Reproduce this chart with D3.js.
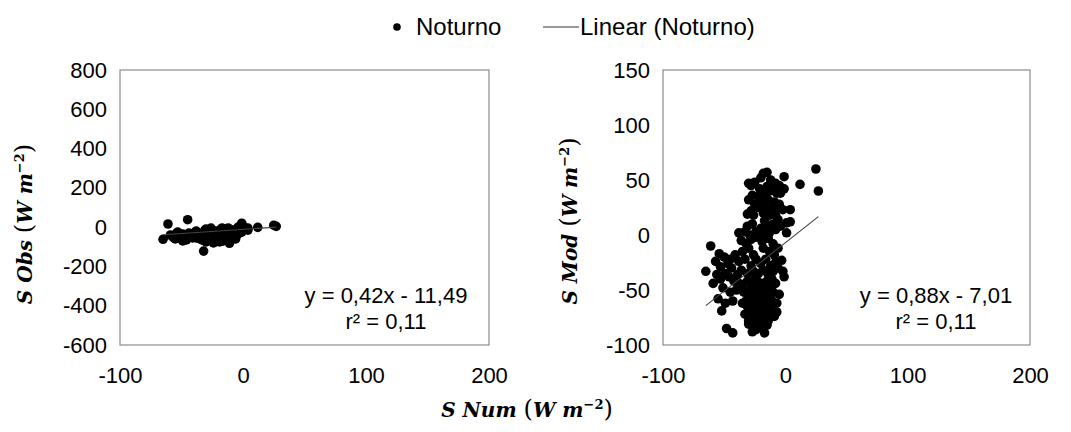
<!DOCTYPE html>
<html>
<head>
<meta charset="utf-8">
<script src="https://cdn.jsdelivr.net/npm/d3@7"></script>
<style>
  body { margin: 0; background: #fff; }
  text { font-family: "Liberation Sans", Arial, sans-serif; fill: #000; }
  .ttl { font-family: "DejaVu Serif", "Liberation Serif", serif; font-weight: bold; font-style: italic; }
</style>
</head>
<body>
<svg id="canvas" width="1071" height="432"></svg>
<script>
// S Num (x) for every night-time point, shared by both panels
const sNum = [
  // scattered points
  25, 27, 12, -61, -65, -59, -54, -53, -52, -48, -43, -38, -45, -30, -15, -1, 1, -2, 4, 4, 1, -3, -2, -1, -5, -7, -17, -24, -30, -32, -1, -10, -11,
  // upper column
  -28, -25, -20, -18, -12, -8, -5, -4, -7, -13, -16, -22, -27, -30, -25, -20,
  -14, -9, -5, -11, -16, -28, -31, -26, -18, -13, -8, -6, -10, -15, -20, -27,
  -31, -33, -29, -24, -18, -13, -8, -4, -23, -17, -9, -21, -15,
  // middle
  -36, -32, -28, -24, -19, -14, -10, -6, -35, -30, -26, -18, -13, -9, -38, -33,
  -28, -24, -20, -16, -12, -8, -36, -31, -26, -22, -18, -14, -10, -6,
  // left wing
  -57, -50, -47, -44, -41, -49, -46, -42, -39, -56, -51, -45, -40, -55, -49, -43, -38, -53,
  // lower core
  -35, -31, -27, -23, -19, -15, -11, -8, -34, -30, -26, -22, -18, -14, -10,
  -35, -31, -27, -23, -19, -15, -11, -7, -33, -29, -25, -21, -17, -13, -9,
  -30, -26, -22, -18, -14, -21, -27, -24, -20, -16, -12, -28,
  -25, -21, -17, -13, -29, -24, -20, -16, -28, -12, -22, -19, -25, -15, -23
]
// S Obs (left panel)
const sObs = [
  10, 4, -1, 16, -62, -40, -30, -48, -55, -45, -35, -20, 38, -20, -10, 20, -10, 5, -5, -15, 0, -30, -20, -25, -40, -50, -60, -80, -70, -122, -15, -30, -82,
  -35, -15, -45, -25, -5, -20, -10, 0, -30, -40, -20, -50, -30, -10, -55, -35,
  -15, -45, -25, -10, -60, -40, -25, -5, -30, -35, -15, -40, -50, -20, -45, -60,
  -15, -35, -50, -25, -10, -55, -30, -20, -40, -5, -60, -20, -45,
  -45, -30, -55, -20, -40, -25, -50, -35, -60, -40, -25, -55, -35, -20, -30, -65,
  -45, -30, -60, -40, -25, -55, -50, -35, -65, -45, -30, -50, -40, -60,
  -50, -40, -60, -30, -55, -35, -65, -45, -25, -55, -45, -50, -35, -60, -70, -40, -55, -25,
  -40, -55, -30, -65, -45, -60, -35, -50, -60, -45, -70, -35, -55, -40, -65,
  -50, -30, -60, -45, -75, -35, -55, -45, -65, -40, -55, -35, -70, -50, -60,
  -75, -45, -60, -40, -65, -50, -65, -50, -65, -30, -45, -35,
  -45, -60, -40, -65, -50, -35, -55, -70, -45, -50, -40, -60, -30, -50, -55
]
// S Mod (right panel)
const sMod = [
  60, 40, 46, -10, -33, -44, -17, -29, -69, -85, -89, 2, -22, 47, 57, 53, 11, 23, 23, 12, 2, -23, -33, -38, -54, -70, -89, -86, -81, -60, 42, 44, -40,
  45, 48, 52, 56, 50, 47, 45, 38, 38, 40, 37, 35, 36, 32, 28, 30,
  32, 30, 28, 25, 24, 22, 19, 18, 20, 18, 18, 14, 10, 8, 6, 10,
  8, 3, 0, 3, 1, 2, 5, 8, 25, 13, 22, 42, 44,
  -5, -8, -4, -2, -6, -3, -8, -12, -15, -12, -18, -12, -15, -18, -24, -22,
  -28, -22, -26, -22, -28, -25, -32, -35, -33, -35, -32, -36, -33, -30,
  -24, -20, -26, -30, -18, -35, -38, -42, -36, -36, -48, -52, -50, -58, -62, -60, -44, -40,
  -45, -42, -46, -42, -44, -42, -46, -44, -52, -55, -52, -56, -50, -54, -52,
  -62, -65, -60, -62, -58, -64, -60, -62, -72, -70, -74, -68, -72, -70, -74,
  -78, -80, -78, -80, -78, -84, -88, -66, -48, -62, -66, -58,
  -45, -52, -56, -46, -50, -58, -64, -68, -66, -58, -72, -76, -40, -82, -50
]

const xTicks = [-100, 0, 100, 200]
const obsTicks = [-600, -400, -200, 0, 200, 400, 600, 800]
const modTicks = [-100, -50, 0, 50, 100, 150]

// trendline coefficients [slope, intercept] and labels
const fitObs = [0.42, -11.49]
const fitMod = [0.88, -7.01]
const eqLabels = ['y = 0,42x - 11,49', 'y = 0,88x - 7,01']
const r2Labels = ['r² = 0,11', 'r² = 0,11']

const svg = d3.select('#canvas')
svg.append('rect').attr('width', 1071).attr('height', 432).attr('fill', '#fff')

const plotTop = 70, plotBottom = 345
const panels = [
  {left: 120, right: 489, ticks: obsTicks, vals: sObs, fit: fitObs, name: 'Obs', tx: 32, ty: 224, ex: 386, i: 0},
  {left: 663, right: 1030, ticks: modTicks, vals: sMod, fit: fitMod, name: 'Mod', tx: 577, ty: 221, ex: 936, i: 1}
]

const xMin = d3.min(sNum), xMax = d3.max(sNum)
const fmt = d => String(d)   // plain hyphen for negatives, as in the original

function addTitle(sel, name) {
  sel.append('tspan').text(`S ${name} `)
  sel.append('tspan').attr('font-style', 'normal').attr('font-weight', 'normal').attr('font-size', 24).text('(')
  sel.append('tspan').text('W m')
  sel.append('tspan').attr('dy', -8).attr('font-size', 13).attr('font-style', 'normal').text('−2')
  sel.append('tspan').attr('dy', 8).attr('font-style', 'normal').attr('font-weight', 'normal').attr('font-size', 24).text(')')
}

panels.forEach(p => {
  const x = d3.scaleLinear().domain([-100, 200]).range([p.left, p.right])
  const y = d3.scaleLinear().domain(d3.extent(p.ticks)).range([plotBottom, plotTop])
  const g = svg.append('g')

  // x axis labels
  const xa = g.append('g').attr('transform', `translate(0,${plotBottom})`)
    .call(d3.axisBottom(x).tickValues(xTicks).tickSize(0).tickPadding(22).tickFormat(fmt))
  xa.select('.domain').remove()
  xa.selectAll('text').attr('font-size', 22).attr('font-family', null)

  // y axis labels
  const ya = g.append('g').attr('transform', `translate(${p.left},0)`)
    .call(d3.axisLeft(y).tickValues(p.ticks).tickSize(0).tickPadding(13).tickFormat(fmt))
  ya.select('.domain').remove()
  ya.selectAll('text').attr('font-size', 22).attr('font-family', null)

  // plot frame
  g.append('rect')
    .attr('x', p.left).attr('y', plotTop)
    .attr('width', p.right - p.left).attr('height', plotBottom - plotTop)
    .attr('fill', 'none').attr('stroke', '#8c8c8c').attr('stroke-width', 1.2)

  // points
  g.append('g').selectAll('circle')
    .data(sNum.map((n, k) => [n, p.vals[k]]))
    .enter()
    .append('circle')
    .attr('cx', d => x(d[0]))
    .attr('cy', d => y(d[1]))
    .attr('r', 4.8)
    .attr('fill', '#000')

  // trendline
  g.append('line')
    .attr('x1', x(xMin)).attr('y1', y(p.fit[0] * xMin + p.fit[1]))
    .attr('x2', x(xMax)).attr('y2', y(p.fit[0] * xMax + p.fit[1]))
    .attr('stroke', '#444').attr('stroke-width', 1.1)

  // equation
  g.append('text').attr('x', p.ex).attr('y', 303).attr('text-anchor', 'middle')
    .attr('font-size', 22).text(eqLabels[p.i])
  g.append('text').attr('x', p.ex).attr('y', 329).attr('text-anchor', 'middle')
    .attr('font-size', 22).text(r2Labels[p.i])

  // y title
  const t = g.append('text').attr('class', 'ttl')
    .attr('transform', `translate(${p.tx},${p.ty}) rotate(-90)`)
    .attr('text-anchor', 'middle').attr('font-size', 20)
  addTitle(t, p.name)
})

// x title
const xt = svg.append('text').attr('class', 'ttl')
  .attr('x', 527).attr('y', 417).attr('text-anchor', 'middle').attr('font-size', 20)
addTitle(xt, 'Num')

// legend
const lg = svg.append('g')
lg.append('circle').attr('cx', 397).attr('cy', 27).attr('r', 3.8).attr('fill', '#000')
lg.append('text').attr('x', 416).attr('y', 35).attr('font-size', 24).text('Noturno')
lg.append('line').attr('x1', 543).attr('x2', 579).attr('y1', 27).attr('y2', 27)
  .attr('stroke', '#333').attr('stroke-width', 1)
lg.append('text').attr('x', 580).attr('y', 35).attr('font-size', 24).text('Linear (Noturno)')
</script>
</body>
</html>
